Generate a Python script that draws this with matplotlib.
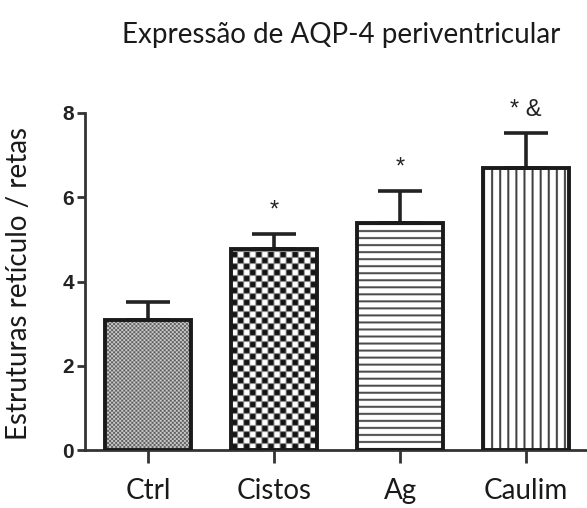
import numpy as np
import matplotlib
matplotlib.use("Agg")
import matplotlib.pyplot as plt

# dados do gráfico
grupos = ["Ctrl", "Cistos", "Ag", "Caulim"]
medias = [3.09, 4.77, 5.39, 6.70]
erros = [0.43, 0.36, 0.76, 0.83]
marcas = ["", "*", "*", "* &"]
texturas = ["xadrez_fino", "xadrez", "horizontal", "vertical"]

AMOSTRAS = 4  # sobreamostragem da textura para evitar colunas duplicadas


def textura(tipo, h, w):
    i, j = np.mgrid[0:h * AMOSTRAS, 0:w * AMOSTRAS] / AMOSTRAS
    i = np.floor(i).astype(int)
    j = np.floor(j).astype(int)
    if tipo == "xadrez_fino":
        return np.where(((i // 2) + (j // 2)) % 2 == 0, 0.35, 0.82)
    if tipo == "xadrez":
        c = 6
        borda = (i % c == 0) | (j % c == 0)
        escuro = ((i // c) + (j // c)) % 2 == 0
        arr = np.where(escuro, 0.08, 1.0)
        return np.where(borda, 0.55, arr)
    if tipo == "horizontal":
        return np.where(i % 7 < 2, 0.3, 1.0)
    return np.where(j % 8 < 2, 0.25, 1.0)


fig = plt.figure(figsize=(5.87, 5.08), dpi=100)
ax = fig.add_axes([85 / 587, 58 / 508, 504 / 587, 337 / 508])

x = np.arange(len(grupos))
ax.set_xlim(-0.5, 3.5)
ax.set_ylim(0, 8)

barras = ax.bar(x, medias, width=0.675, facecolor="none",
                edgecolor="#1a1a1a", linewidth=2.8, zorder=3)
ax.errorbar(x, medias, yerr=[np.zeros(len(x)), erros], fmt="none",
            ecolor="#222222", elinewidth=2.6, capsize=16, capthick=2.6, zorder=2)

# preenche cada barra com a textura correspondente
for barra, tipo in zip(barras, texturas):
    x0, x1 = barra.get_x(), barra.get_x() + barra.get_width()
    h = barra.get_height()
    p0 = ax.transData.transform((x0, 0))
    p1 = ax.transData.transform((x1, h))
    wpx = int(round(p1[0] - p0[0]))
    hpx = int(round(p1[1] - p0[1]))
    img = ax.imshow(textura(tipo, hpx, wpx), extent=(x0, x1, 0, h), origin="lower",
                    cmap="gray", vmin=0, vmax=1, interpolation="antialiased",
                    aspect="auto", zorder=1)
    img.set_clip_path(barra)

ax.set_xlim(-0.5, 3.5)
ax.set_ylim(0, 8)

for xi, m, e, s in zip(x, medias, erros, marcas):
    if not s:
        continue
    ax.text(xi, m + e + 0.55, s, ha="center", va="center", fontsize=17,
            family="Liberation Sans", color="#222222", clip_on=False)

for lado in ["top", "right"]:
    ax.spines[lado].set_visible(False)
for lado in ["left", "bottom"]:
    ax.spines[lado].set_linewidth(2)
    ax.spines[lado].set_color("#333333")

ax.set_yticks([0, 2, 4, 6, 8])
ax.tick_params(axis="y", length=6, width=2, color="#333333", pad=2,
               labelsize=15)
for t in ax.get_yticklabels():
    t.set_fontweight("bold")
    t.set_family("Liberation Sans")
    t.set_color("#222222")

ax.set_xticks(x)
ax.set_xticklabels(grupos, family="Lato", fontsize=20, color="#1a1a1a")
ax.tick_params(axis="x", length=9, width=2, color="#333333", pad=11)

fig.text(19 / 587, 1 - 283 / 508, "Estruturas retículo / retas", rotation=90,
         ha="center", va="center", family="Lato", fontsize=20, color="#1a1a1a")

fig.text(341 / 587, 1 - 35 / 508, "Expressão de AQP-4 periventricular",
         ha="center", va="center", family="Lato", fontsize=20, color="#1a1a1a")

fig.savefig("out.png", dpi=100)
